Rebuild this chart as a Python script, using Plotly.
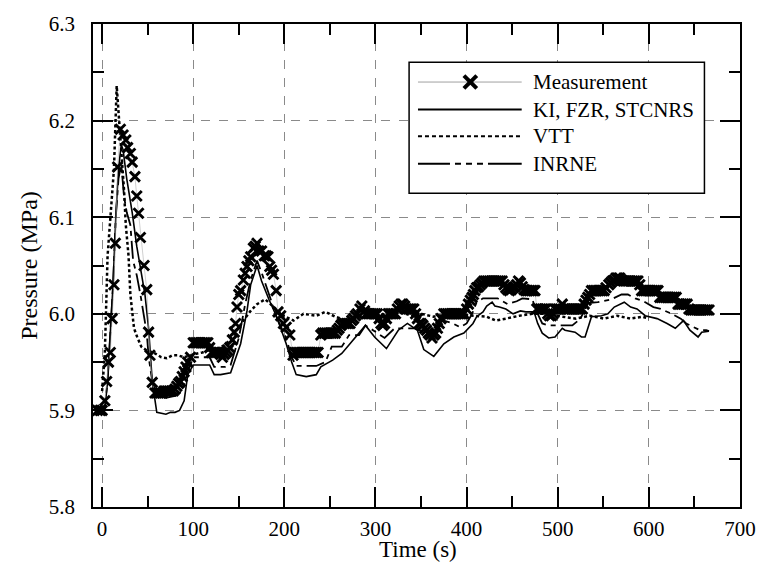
import plotly.graph_objects as go

# ---------------- data ----------------
meas_t = [-5, -2, 0, 3, 5, 7, 9, 11, 13, 14.5, 17, 20, 23, 26, 28, 31, 33, 36, 38, 40, 42, 46,
          49, 51, 52.5, 55,
          58, 60, 62, 64, 66, 68, 70, 72, 74, 76, 78, 80, 82, 84, 86, 88, 90, 92, 94, 97,
          100, 102, 104, 106, 108, 110, 112, 114, 116, 118,
          120, 122, 124, 126, 128, 130, 132, 134, 136, 138, 140, 143, 145, 146.5, 148, 150,
          152, 155, 157, 159, 161, 163, 166, 168, 170, 172, 175, 178, 180, 182, 184, 186,
          188, 191, 193, 196, 199, 202, 206, 209.5,
          211, 213, 215, 217, 219, 221, 223, 225, 227, 229, 231, 233, 235, 237,
          240, 242, 244, 246, 248, 250, 252, 254, 256, 258, 260, 262, 264, 266, 268, 270,
          272, 274, 276, 278, 280, 283, 285, 288, 290, 292, 294, 296, 298, 300, 302, 304,
          306, 308, 310, 312, 314, 316, 318, 320, 322, 324, 326, 328, 330, 332, 334, 336,
          338, 340, 342, 344, 346, 348, 350, 352, 354, 356, 358, 360, 362, 364, 366, 368,
          370, 372,
          375, 377, 379, 381, 383, 385, 387, 389, 391, 393, 395, 397, 400, 402, 404, 406,
          407.5, 409, 411, 413, 415, 417,
          419, 421, 423, 425, 427, 429, 431, 433, 435, 437, 439, 441, 443, 445, 447, 449,
          451, 453, 455, 457, 459, 461, 463,
          465, 467, 469, 471, 473, 475, 477, 479, 481, 483, 485, 487, 489, 491, 493, 495,
          497, 499, 501, 503, 505, 507,
          509, 511, 513, 515, 517, 519, 521, 523, 525, 527, 529, 531, 533, 535,
          537, 539, 541, 543, 545, 547, 549, 551, 553, 556, 558, 560, 562, 564, 566, 568,
          570, 572, 574, 576, 578, 580, 582, 584, 586, 588, 590,
          592, 594, 596, 598, 600, 602, 604, 606, 608, 610,
          612, 614, 616, 618, 620, 622, 624, 626, 628, 630,
          632, 634, 636, 638, 640, 642, 644,
          646, 648, 650, 652, 654, 656, 658, 660, 662, 664, 666]
meas_p = [5.900, 5.900, 5.900, 5.910, 5.930, 5.950, 5.960, 5.995, 6.030, 6.073, 6.152, 6.191,
          6.185, 6.180, 6.172, 6.166, 6.157, 6.142, 6.122, 6.104, 6.079, 6.050,
          6.025, 5.981, 5.957, 5.929,
          5.918, 5.918, 5.918, 5.918, 5.918, 5.920, 5.920, 5.920, 5.920, 5.920, 5.920, 5.922,
          5.925, 5.928, 5.930, 5.935, 5.940, 5.945, 5.950, 5.955,
          5.970, 5.970, 5.970, 5.970, 5.970, 5.970, 5.970, 5.970, 5.970, 5.965,
          5.960, 5.960, 5.960, 5.960, 5.960, 5.958, 5.955, 5.958, 5.960, 5.962, 5.965, 5.973,
          5.981, 5.990, 6.007, 6.020,
          6.024, 6.035, 6.042, 6.049, 6.055, 6.059, 6.068, 6.070, 6.073, 6.065, 6.065, 6.060,
          6.060, 6.059, 6.049, 6.045,
          6.041, 6.024, 6.002, 5.998, 5.990, 5.986, 5.978, 5.957,
          5.960, 5.960, 5.960, 5.960, 5.960, 5.960, 5.960, 5.960, 5.960, 5.960, 5.960, 5.960,
          5.960, 5.960,
          5.978, 5.980, 5.980, 5.980, 5.980, 5.980, 5.980, 5.980, 5.980, 5.983, 5.985, 5.988,
          5.990, 5.990, 5.990, 5.990,
          5.990, 5.993, 5.995, 5.998, 6.000, 6.005, 6.008, 6.003, 6.000, 6.000, 6.000, 6.000,
          6.000, 6.000, 6.000, 5.995,
          5.990, 5.988, 5.990, 5.995, 6.000, 6.000, 6.000, 6.000, 6.000, 6.005, 6.008, 6.010,
          6.010, 6.008, 6.005, 6.005,
          6.005, 6.005, 6.005, 6.000, 5.995, 5.990, 5.990, 5.988, 5.985, 5.983, 5.980, 5.978,
          5.975, 5.978, 5.980, 5.985,
          5.990, 5.995,
          6.000, 6.000, 6.000, 6.000, 6.000, 6.000, 6.000, 6.000, 6.000, 6.000, 6.000, 6.000,
          6.005, 6.010, 6.014, 6.017,
          6.020, 6.024, 6.027, 6.028, 6.030, 6.032,
          6.034, 6.034, 6.034, 6.034, 6.034, 6.034, 6.034, 6.034, 6.034, 6.034, 6.034, 6.030,
          6.027, 6.025, 6.024, 6.025,
          6.027, 6.028, 6.030, 6.034, 6.032, 6.028, 6.025,
          6.024, 6.024, 6.024, 6.024, 6.024, 6.024, 6.005, 6.005, 6.005, 6.005, 6.005, 6.005,
          6.000, 5.998, 5.998, 6.000,
          6.005, 6.005, 6.005, 6.005, 6.010, 6.005,
          6.005, 6.005, 6.005, 6.005, 6.005, 6.005, 6.005, 6.005, 6.005, 6.005, 6.010, 6.014,
          6.017, 6.020,
          6.024, 6.024, 6.024, 6.024, 6.024, 6.024, 6.024, 6.024, 6.027, 6.030, 6.032, 6.034,
          6.035, 6.037, 6.037, 6.037,
          6.035, 6.034, 6.034, 6.034, 6.034, 6.034, 6.034, 6.034, 6.034, 6.034, 6.030,
          6.024, 6.024, 6.024, 6.024, 6.024, 6.024, 6.024, 6.024, 6.024, 6.024,
          6.017, 6.017, 6.017, 6.017, 6.017, 6.017, 6.017, 6.017, 6.017, 6.017,
          6.010, 6.010, 6.010, 6.010, 6.010, 6.010, 6.005,
          6.004, 6.004, 6.004, 6.004, 6.004, 6.004, 6.004, 6.004, 6.004, 6.004, 6.004]

ki_t = [-5, 0, 3, 6, 9, 12, 15, 18, 21, 23, 27, 33, 38, 42, 47, 51, 55, 60, 65, 70, 75, 80,
        85, 90, 94, 100, 110, 118, 123, 130, 141, 152, 159, 163, 170, 175, 183, 191.5, 202,
        208, 213, 224, 235, 240, 253, 263, 272, 280, 289, 299, 312, 325, 335, 346, 353, 364,
        375, 386, 397, 407, 411, 418, 422, 428, 431, 436, 443, 451, 459, 465, 474, 478, 483,
        490, 497, 505, 508, 519, 526, 530, 537, 548, 555, 562, 568, 573, 580, 587, 596, 609,
        620, 629, 638, 645, 654, 658, 666]
ki_p = [5.900, 5.900, 5.902, 5.930, 5.980, 6.030, 6.100, 6.150, 6.175, 6.170, 6.140, 6.105,
        6.070, 6.048, 6.020, 5.985, 5.930, 5.898, 5.897, 5.896, 5.898, 5.898,
        5.900, 5.910, 5.937, 5.947, 5.947, 5.947, 5.937, 5.937, 5.939, 5.969, 6.003, 6.030,
        6.050, 6.034, 6.015, 5.997, 5.969,
        5.950, 5.937, 5.935, 5.937, 5.945, 5.952, 5.959, 5.969, 5.978, 5.988, 5.976, 5.964,
        5.983, 5.990, 5.983, 5.963, 5.956,
        5.969, 5.976, 5.980, 5.990, 5.997, 6.002, 6.008, 6.012, 6.008, 6.007, 6.005, 6.000,
        6.003, 6.002, 6.002, 5.990, 5.980,
        5.975, 5.976, 5.985, 5.983, 5.981, 5.976, 5.976, 5.997, 5.998, 6.000, 6.007, 6.010,
        6.012, 6.007, 6.005, 5.998, 5.995,
        5.990, 5.985, 5.993, 5.983, 5.976, 5.981, 5.982]

vtt_t = [0, 3, 6, 9, 13, 16, 20, 24, 26, 29, 31, 35, 38.5, 43, 47.5, 58, 65, 71, 77, 83, 90,
         100, 110, 119, 130, 141, 148, 155, 163, 170, 179, 188, 199, 210, 221, 235, 245, 256,
         268, 285, 299, 317, 328, 339, 350, 364, 379, 393, 407, 422, 432, 443, 458, 472, 490,
         505, 520, 535, 551, 565, 580, 593, 600]
vtt_p = [5.920, 5.960, 6.060, 6.100, 6.150, 6.236, 6.184, 6.129, 6.092, 6.060, 6.020, 5.985,
         5.976, 5.966, 5.963, 5.959, 5.955, 5.954, 5.957, 5.957, 5.955,
         5.958, 5.960, 5.963, 5.965, 5.973, 5.983, 5.993, 6.003, 6.010, 6.015, 6.007, 5.998,
         5.993, 6.000, 5.998, 6.002, 5.997,
         5.993, 5.998, 5.997, 5.998, 6.002, 5.998, 6.000, 5.997, 6.000, 6.000, 5.998, 5.997,
         5.993, 5.995, 5.998, 6.000, 6.000,
         5.997, 5.995, 5.998, 5.995, 5.998, 5.995, 5.997, 5.995]

inr_t = [-5, 0, 3, 6, 9, 12, 15, 18, 21, 24, 27, 31, 34, 38, 42, 46, 49, 51, 55, 60, 70, 80,
         88, 94, 100, 110, 118, 123, 135, 141, 150, 157, 163, 170, 176, 185, 192, 202, 208,
         213, 224, 235, 245, 252, 263, 271, 282, 289, 299, 310, 321, 343, 355, 362, 368, 375,
         385, 393, 400, 406, 411, 418, 434, 445, 455, 461, 472, 478, 483, 490, 500, 516, 525,
         533, 544, 559, 570, 577, 585, 594, 605, 613, 625, 635, 641, 656, 663, 666]
inr_p = [5.900, 5.900, 5.905, 5.930, 5.980, 6.030, 6.100, 6.140, 6.155, 6.122, 6.105, 6.092,
         6.055, 6.040, 6.020, 5.997, 5.980, 5.956, 5.930, 5.915, 5.913, 5.915,
         5.920, 5.940, 5.955, 5.955, 5.955, 5.945, 5.945, 5.947, 5.975, 6.010, 6.035, 6.055,
         6.040, 6.015, 5.995, 5.975, 5.955,
         5.946, 5.946, 5.946, 5.950, 5.966, 5.966, 5.978, 5.978, 5.988, 5.982, 5.975, 5.985,
         5.985, 5.980, 5.980, 5.993, 5.993,
         5.990, 5.986, 5.990, 6.000, 6.012, 6.016, 6.016, 6.010, 6.013, 6.016, 6.015, 6.000,
         5.990, 5.988, 5.988, 5.988, 5.995,
         6.011, 6.012, 6.015, 6.020, 6.020, 6.016, 6.013, 6.007, 6.005, 6.000, 5.995, 5.990,
         5.983, 5.983, 5.982]

x_ticks = [0, 100, 200, 300, 400, 500, 600, 700]
x_minor = [50, 150, 250, 350, 450, 550, 650]
y_ticks = [5.8, 5.9, 6.0, 6.1, 6.2, 6.3]
y_ticktext = ["5.8", "5.9", "6.0", "6.1", "6.2", "6.3"]
y_minor = [5.85, 5.95, 6.05, 6.15, 6.25]
legend_labels = ["Measurement", "KI, FZR, STCNRS", "VTT", "INRNE"]
x_title = "Time (s)"
y_title = "Pressure (MPa)"

FONT = "Liberation Serif"

fig = go.Figure()
fig.add_trace(go.Scatter(x=ki_t, y=ki_p, mode="lines", name=legend_labels[1],
                         line=dict(color="black", width=1.6)))
fig.add_trace(go.Scatter(x=vtt_t, y=vtt_p, mode="lines", name=legend_labels[2],
                         line=dict(color="black", width=2.5, dash="3px,2.5px")))
fig.add_trace(go.Scatter(x=inr_t, y=inr_p, mode="lines", name=legend_labels[3],
                         line=dict(color="black", width=1.8, dash="18px,5px,5px,5px")))
fig.add_trace(go.Scatter(x=meas_t, y=meas_p, mode="lines+markers", name=legend_labels[0],
                         line=dict(color="#b0b0b0", width=0.6),
                         marker=dict(symbol="x-thin", size=10,
                                     line=dict(color="black", width=2.9))))

# plot area in pixels: x 93..748, y 16..507
L, R, T, B = 93, 748, 16, 507
W, H = R - L, B - T
def px(x):
    return (x - L) / W
def py(y):
    return (B - y) / H

shapes = []
annots = []
# legend box
shapes.append(dict(type="rect", xref="paper", yref="paper", x0=px(413), x1=px(712),
                   y0=py(188), y1=py(55), line=dict(color="black", width=1.5),
                   fillcolor="white", layer="above"))
rows = [75, 103, 130, 158]
lx0, lx1 = px(422), px(527)
styles = [dict(color="#a0a0a0", width=1), dict(color="black", width=2),
          dict(color="black", width=2, dash="4px,3px"),
          dict(color="black", width=2, dash="32px,5px,6px,5px,6px,5px,6px,5px,40px,100px")]
for r, st in zip(rows, styles):
    shapes.append(dict(type="line", xref="paper", yref="paper", x0=lx0, x1=lx1,
                       y0=py(r), y1=py(r), line=st, layer="above"))
# X marker for Measurement
cx, cy, s = 475, rows[0], 6.5
shapes.append(dict(type="line", xref="paper", yref="paper", x0=px(cx - s), x1=px(cx + s),
                   y0=py(cy - s), y1=py(cy + s), line=dict(color="black", width=4), layer="above"))
shapes.append(dict(type="line", xref="paper", yref="paper", x0=px(cx - s), x1=px(cx + s),
                   y0=py(cy + s), y1=py(cy - s), line=dict(color="black", width=4), layer="above"))
for r, lab in zip(rows, legend_labels):
    annots.append(dict(xref="paper", yref="paper", x=px(536), y=py(r), text=lab,
                       showarrow=False, xanchor="left", yanchor="middle",
                       font=dict(family=FONT, size=21, color="black")))
# x-axis title
annots.append(dict(xref="paper", yref="paper", x=px(422), y=py(550), text=x_title,
                   showarrow=False, xanchor="center", yanchor="middle",
                   font=dict(family=FONT, size=23, color="black")))

axis_common = dict(
    ticks="inside", ticklen=20, tickwidth=1.6, tickcolor="black",
    showline=True, linecolor="black", linewidth=1.5, mirror="ticks",
    showgrid=True, gridcolor="#8a8a8a", gridwidth=1, griddash="dash",
    zeroline=False, tickfont=dict(family=FONT, size=21, color="black"),
)

fig.update_layout(
    width=768, height=576,
    margin=dict(l=L, r=768 - R, t=T, b=576 - B),
    paper_bgcolor="white", plot_bgcolor="white",
    showlegend=False,
    font=dict(family=FONT),
    shapes=shapes, annotations=annots,
    xaxis=dict(range=[-10, 700], tickmode="array", tickvals=x_ticks,
               minor=dict(tickvals=x_minor, ticks="inside", ticklen=11,
                          tickwidth=1.6, tickcolor="black", showgrid=False),
               ticklabelstandoff=2,
               **axis_common),
    yaxis=dict(range=[5.8, 6.3], tickmode="array", tickvals=y_ticks, ticktext=y_ticktext,
               minor=dict(tickvals=y_minor, ticks="inside", ticklen=11,
                          tickwidth=1.6, tickcolor="black", showgrid=False),
               ticklabelstandoff=12,
               title=dict(text=y_title, font=dict(family=FONT, size=24, color="black"), standoff=4),
               **axis_common),
)

fig.write_html("out.html")
